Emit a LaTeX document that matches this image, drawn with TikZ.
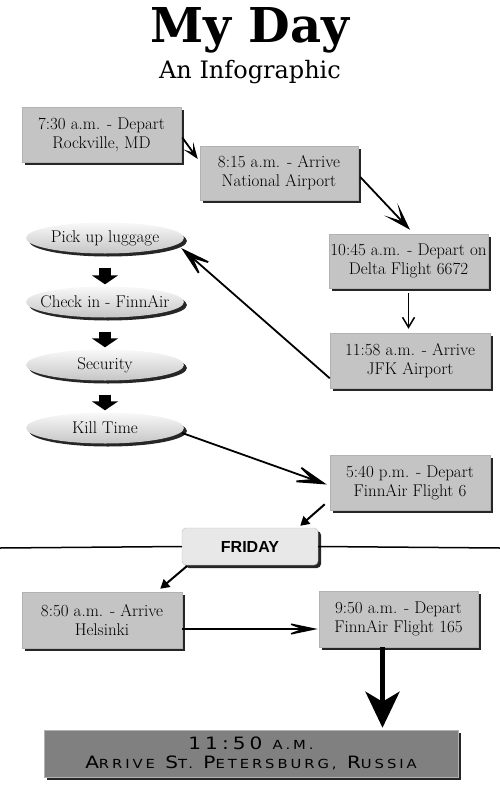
\documentclass[tikz,border=0pt]{standalone}
\usepackage{fontspec}
\newfontfamily\titlefont{DejaVu Serif}
\newfontfamily\fridayfont{Liberation Sans}
\newfontfamily\cpfont[LetterSpace=20]{DejaVu Sans}
\usetikzlibrary{shapes.geometric,shadows,arrows.meta,calc}
\definecolor{boxgray}{RGB}{196,196,196}
\definecolor{darkbox}{RGB}{128,128,128}
\definecolor{fribox}{RGB}{232,232,232}
\newcommand{\bigc}[1]{{\fontsize{17}{19}\selectfont #1}}
\newcommand{\smallc}[1]{{\fontsize{12.5}{19}\selectfont #1}}
\begin{document}
\begin{tikzpicture}[x=1pt,y=-1pt,font=\fontsize{17}{19}\selectfont,
  shad/.style={drop shadow={shadow xshift=3pt,shadow yshift=-3pt,fill=black,opacity=0.85}},
  box/.style={rectangle,draw=gray!60,line width=0.5pt,fill=boxgray,minimum width=160pt,minimum height=55pt,inner sep=0pt,align=center,shad},
  ell/.style={ellipse,draw=none,top color=gray!5,bottom color=gray!45,minimum width=158pt,minimum height=31pt,inner sep=0pt,shad},
  conn/.style={line width=1.8pt},
  bighead/.style={conn,-{Stealth[length=40pt,width=22pt,inset=24pt]}},
  midhead/.style={conn,-{Stealth[length=28pt,width=18pt,inset=16pt]}},
  barb/.style={line width=1.5pt,-{Straight Barb[length=10pt,width=12pt]}},
  tri/.style={line width=2pt,-{Triangle[length=9pt,width=10pt]}},
  block/.style={line width=12pt,-{Triangle[length=9pt,width=26pt]}}
]
\useasboundingbox (0,0) rectangle (500,800);

% titles
\node[font=\titlefont\bfseries\fontsize{48}{52}\selectfont] (title) at (250,30) {My Day};
\node[font=\titlefont\fontsize{24}{28}\selectfont] (sub) at (250,72) {An Infographic};

% boxes
\node[box,minimum width=159pt] (A) at (101.5,134.5) {7:30 a.m. - Depart\\Rockville, MD};
\node[box,minimum width=158pt,minimum height=54pt] (B) at (279,173) {8:15 a.m. - Arrive\\National Airport};
\node[box,minimum width=159pt,minimum height=54pt] (C) at (408.5,261) {10:45 a.m. - Depart on\\Delta Flight 6672};
\node[box] (D) at (410,360.5) {11:58 a.m. - Arrive\\JFK Airport};
\node[box] (E) at (410,482.5) {5:40 p.m. - Depart\\FinnAir Flight 6};
\node[box,minimum height=56pt] (F) at (102,620) {8:50 a.m. - Arrive\\Helsinki};
\node[box,minimum width=159pt,minimum height=56pt] (G) at (398.5,619) {9:50 a.m. - Depart\\FinnAir Flight 165};
\node[box,fill=darkbox,minimum width=414pt,minimum height=47pt,font=\cpfont\fontsize{17}{19}\selectfont] (fin) at (251,753.5)
  {\scalebox{1.18}[1]{\bigc{11:50} \smallc{A.M.}}\\\scalebox{1.18}[1]{\bigc{A}\smallc{RRIVE} \bigc{S}\smallc{T.} \bigc{P}\smallc{ETERSBURG,} \bigc{R}\smallc{USSIA}}};

% friday
\node[rectangle,rounded corners=4pt,draw=gray!50,fill=fribox,minimum width=136pt,minimum height=37pt,
  font=\fridayfont\bfseries\fontsize{16}{18}\selectfont,shad] (fri) at (250,546.5) {FRIDAY};
\draw[line width=1.5pt] (0,548) -- (fri.west);
\draw[line width=1.5pt] (fri.east) -- (500,548);

% ellipses
\node[ell,label=center:{Pick up luggage}] (pick) at (105,238) {};
\node[ell,label=center:{Check in - FinnAir}] (check) at (105,302) {};
\node[ell,label=center:{Security}] (sec) at (105,365) {};
\node[ell,label=center:{Kill Time}] (kill) at (105,428) {};

\draw[block] ($(pick.south)+(0,14)$) -- ($(check.north)+(0,-2)$);
\draw[block] ($(check.south)+(0,14)$) -- ($(sec.north)+(0,-2)$);
\draw[block] ($(sec.south)+(0,14)$) -- ($(kill.north)+(0,-2)$);

% connectors
\draw[conn,-{Stealth[length=16pt,width=12pt,inset=8pt]}] ($(A.east)+(1,3)$) -- ($(B.west)+(-2,-14)$);
\draw[midhead] ($(B.east)+(2,4)$) -- ($(C.north)+(1.5,-4)$);
\draw[barb] ($(C.south)+(0,5)$) -- ($(C.south|-D.north)+(0,-4)$);
\draw[bighead] ($(D.south west)+(0,-10)$) -- ($(pick.east)+(-3,10)$);
\draw[bighead] ($(kill.east)+(-2,5)$) -- ($(E.west)+(-3,2)$);
\draw[tri] ($(E.south west)+(-5,-6)$) -- ($(fri.north east)+(-18,-2)$);
\draw[tri] ($(fri.south west)+(5,1)$) -- ($(F.north east)+(-22,-3)$);
\draw[conn,line width=1.5pt,-{Stealth[length=36pt,width=15pt,inset=20pt]}] ($(F.east)+(0,9)$) -- ($(G.west)+(-1,10)$);
\draw[line width=5pt,-{Stealth[length=36pt,width=34pt,inset=10pt]}] ($(G.south)+(-16,0)$) -- ($(G.south|-fin.north)+(-16,-2)$);
\end{tikzpicture}
\end{document}
